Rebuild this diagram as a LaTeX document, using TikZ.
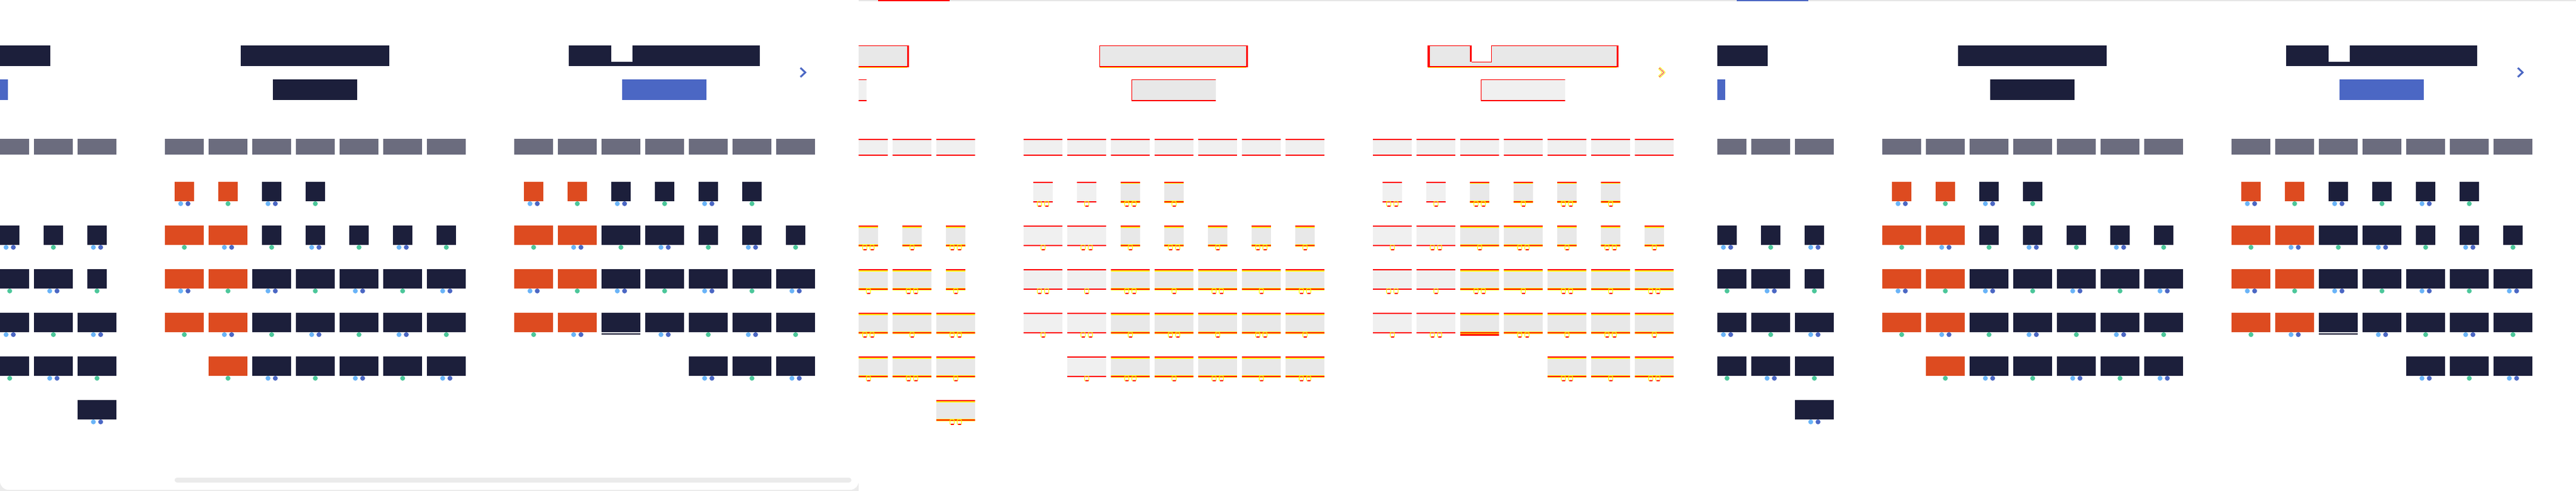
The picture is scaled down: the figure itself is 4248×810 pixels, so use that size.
\documentclass[tikz,border=0pt]{standalone}

\definecolor{navy}{HTML}{1C1F3B}
\definecolor{tangerine}{HTML}{DD4B20}
\definecolor{slate}{HTML}{6B6C7E}
\definecolor{royal}{HTML}{4B67C4}
\definecolor{sky}{HTML}{6AB4F8}
\definecolor{mint}{HTML}{4CC79A}
\definecolor{page}{HTML}{EBEBEB}
\definecolor{rim}{HTML}{E6E6E6}
\definecolor{dbgfill}{HTML}{E8E8E8}
\definecolor{dbglight}{HTML}{F0F0F0}
\definecolor{dbgred}{HTML}{FF0000}
\definecolor{dbgyellow}{HTML}{FFFF00}

\newif\ifdbg

\tikzset{
  redbar/.style={fill=dbgred},
  yellowbar/.style={fill=dbgyellow},
  redline/.style={draw=dbgred, line width=1pt},
  chevron/.style={line width=3pt, line join=miter},
}

% month title
\newcommand{\monthtitle}[2]{%
  \ifdbg
    \fill[dbgfill] (#1,75) rectangle (#2,109);
    \draw[redline] (#1+0.5,109) -- (#1+0.5,75.5) -- (#2,75.5);
    \fill[redbar] (#2-3,75) rectangle (#2,109);
    \fill[redbar] (#1,109) rectangle (#2,111);
    \fill[yellowbar] (#1+1,111) rectangle (#2-3,112);
  \else
    \fill[navy] (#1,75) rectangle (#2,109);
  \fi}

\newcommand{\titlenotch}[3]{% notch left, notch right, title left
  \fill[white] (#1,74) rectangle (#2,102);
  \ifdbg
    \draw[redline] (#1+3,102.5) -- (#2+0.5,102.5) -- (#2+0.5,75);
    \fill[redbar] (#1,75) rectangle (#1+3,102);
    \fill[redbar] (#3,75) rectangle (#3+4,109);
  \fi}

% year line under the title
\newcommand{\monthsub}[4]{%
  \ifdbg
    \fill[#4] (#1,131) rectangle (#2,165);
    \draw[redline] (#1+0.5,165) -- (#1+0.5,131.5) -- (#2,131.5);
    \fill[redbar] (#1,165) rectangle (#2,167);
  \else
    \fill[#3] (#1,131) rectangle (#2,165);
  \fi}

\newcommand{\weekrow}[1]{%
  \foreach \col in {0,...,6} {
    \pgfmathsetmacro\wx{#1+72*\col}
    \ifdbg
      \fill[dbglight] (\wx,229) rectangle (\wx+64,255);
      \fill[redbar] (\wx,229) rectangle (\wx+64,231);
      \fill[redbar] (\wx,255) rectangle (\wx+64,257);
    \else
      \fill[slate] (\wx,229) rectangle (\wx+64,255);
    \fi
  }}

\newcommand{\cellbox}[4]{% centre x, top, half width, weekend
  \ifdbg
    \ifnum#4=1
      \fill[dbglight] (#1-#3,#2) rectangle (#1+#3,#2+32);
    \else
      \fill[dbgfill] (#1-#3,#2) rectangle (#1+#3,#2+32);
      \fill[yellowbar] (#1-#3,#2+2) rectangle (#1+#3,#2+3.5);
      \fill[yellowbar] (#1-#3,#2+30.5) rectangle (#1+#3,#2+35);
    \fi
    \fill[redbar] (#1-#3,#2) rectangle (#1+#3,#2+2);
    \fill[redbar] (#1-#3,#2+32) rectangle (#1+#3,#2+34);
  \else
    \ifnum#4=1
      \fill[tangerine] (#1-#3,#2) rectangle (#1+#3,#2+32);
    \else
      \fill[navy] (#1-#3,#2) rectangle (#1+#3,#2+32);
    \fi
  \fi}

\newcommand{\dayspot}[3]{% x, centre y, colour
  \ifdbg
    \draw[dbgyellow, line width=1pt, rounded corners=2pt] (#1-3.5,#2-4) rectangle (#1+3.5,#2+4.5);
    \draw[dbgred, line width=1.5pt] (#1-2.5,#2+4) -- (#1+2.5,#2+4);
  \else
    \fill[#3] (#1,#2) circle[radius=4pt];
  \fi}

\newcommand{\todaymark}[3]{%
  \ifdbg
    \fill[redbar] (#1-#3,#2+35) rectangle (#1+#3,#2+38);
  \else
    \fill[navy] (#1-#3,#2+34) rectangle (#1+#3,#2+36);
  \fi}

% row/col/weekend/half width/spots (0 = today)
\newcommand{\monthgrid}[2]{%
  \foreach \row/\col/\wk/\hw/\dn in {#2} {
    \pgfmathsetmacro\cx{#1+72*\col+32}
    \pgfmathsetmacro\cy{300+72*\row}
    \pgfmathsetmacro\sy{\cy+36}
    \cellbox{\cx}{\cy}{\hw}{\wk}
    \ifcase\dn\relax
      \todaymark{\cx}{\cy}{\hw}
    \or
      \dayspot{\cx}{\sy}{mint}
    \or
      \dayspot{\cx-6}{\sy}{sky}
      \dayspot{\cx+6}{\sy}{royal}
    \fi
  }}

\newcommand{\nextarrow}{%
  \ifdbg
    \draw[dbgyellow, line width=4.5pt, line join=round] (1320,112) -- (1328,119.5) -- (1320,127);
    \draw[dbglight, line width=2.5pt, line join=round] (1320,112) -- (1328,119.5) -- (1320,127);
    \draw[dbgred, line width=0.6pt] (1320,112) -- (1328,119.5) -- (1320,127);
  \else
    \draw[royal, chevron] (1320,112) -- (1328,119.5) -- (1320,127);
  \fi}

\newcommand{\calview}{%
  % previous month, cut off
  \monthtitle{-196}{83}
  \monthsub{-126}{13}{royal}{dbglight}
  \weekrow{-304}
  \monthgrid{-304}{1/4/0/16/2, 1/5/0/16/1, 1/6/0/16/2,
    2/4/0/32/1, 2/5/0/32/2, 2/6/0/16/1,
    3/4/0/32/2, 3/5/0/32/1, 3/6/0/32/2,
    4/4/0/32/1, 4/5/0/32/2, 4/6/0/32/1,
    5/6/0/32/2}
  % current month
  \monthtitle{397}{642}
  \monthsub{450}{589}{navy}{dbgfill}
  \weekrow{272}
  \monthgrid{272}{0/0/1/16/2, 0/1/1/16/1, 0/2/0/16/2, 0/3/0/16/1,
    1/0/1/32/1, 1/1/1/32/2, 1/2/0/16/1, 1/3/0/16/2, 1/4/0/16/1, 1/5/0/16/2, 1/6/0/16/1,
    2/0/1/32/2, 2/1/1/32/1, 2/2/0/32/2, 2/3/0/32/1, 2/4/0/32/2, 2/5/0/32/1, 2/6/0/32/2,
    3/0/1/32/1, 3/1/1/32/2, 3/2/0/32/1, 3/3/0/32/2, 3/4/0/32/1, 3/5/0/32/2, 3/6/0/32/1,
    4/1/1/32/1, 4/2/0/32/2, 4/3/0/32/1, 4/4/0/32/2, 4/5/0/32/1, 4/6/0/32/2}
  % next month
  \monthtitle{938}{1253}
  \titlenotch{1008}{1043}{938}
  \monthsub{1026}{1165}{royal}{dbglight}
  \weekrow{848}
  \monthgrid{848}{0/0/1/16/2, 0/1/1/16/1, 0/2/0/16/2, 0/3/0/16/1, 0/4/0/16/2, 0/5/0/16/1,
    1/0/1/32/1, 1/1/1/32/2, 1/2/0/32/1, 1/3/0/32/2, 1/4/0/16/1, 1/5/0/16/2, 1/6/0/16/1,
    2/0/1/32/2, 2/1/1/32/1, 2/2/0/32/2, 2/3/0/32/1, 2/4/0/32/2, 2/5/0/32/1, 2/6/0/32/2,
    3/0/1/32/1, 3/1/1/32/2, 3/2/0/32/0, 3/3/0/32/2, 3/4/0/32/1, 3/5/0/32/2, 3/6/0/32/1,
    4/4/0/32/2, 4/5/0/32/1, 4/6/0/32/2}
  \nextarrow}

\begin{document}
\begin{tikzpicture}[x=1pt,y=-1pt]
  \useasboundingbox (0,0) rectangle (4248,810);
  \fill[white] (0,0) rectangle (4248,810);

  % first view
  \fill[page] (0,0) rectangle (1416,810);
  \fill[white, rounded corners=14pt] (0,-30) rectangle (1416,808);
  \fill[page, rounded corners=4pt] (288,788) rectangle (1404,796);
  \begin{scope}
    \clip (0,0) rectangle (1416,810);
    \calview
  \end{scope}

  % second view, outlined
  \fill[rim] (1416,0) rectangle (2832,2);
  \fill[redbar] (1448,0) rectangle (1566,1.7);
  \begin{scope}[xshift=1416pt]
    \dbgtrue
    \clip (0,0) rectangle (1416,810);
    \calview
  \end{scope}

  % third view
  \fill[rim] (2832,0) rectangle (4248,2);
  \fill[royal] (2864,0) rectangle (2982,1.7);
  \begin{scope}[xshift=2832pt]
    \clip (0,0) rectangle (1416,810);
    \calview
  \end{scope}
\end{tikzpicture}
\end{document}
